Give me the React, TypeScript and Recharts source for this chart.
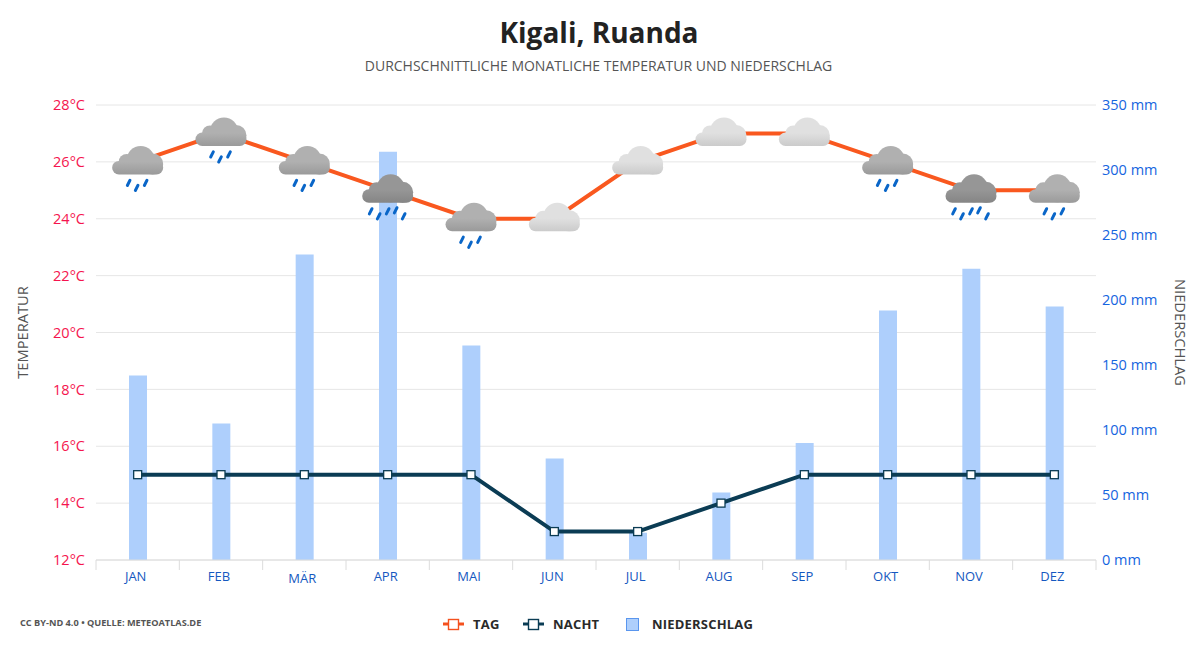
import { ComposedChart, Bar, Line, XAxis, YAxis, CartesianGrid, Legend } from 'recharts';

const months = ['JAN', 'FEB', 'MÄR', 'APR', 'MAI', 'JUN', 'JUL', 'AUG', 'SEP', 'OKT', 'NOV', 'DEZ'];
const tag = [26, 27, 26, 25, 24, 24, 26, 27, 27, 26, 25, 25];
const nacht = [15, 15, 15, 15, 15, 13, 13, 14, 15, 15, 15, 15];
const niederschlag = [142, 105, 235, 314, 165, 78, 21, 52, 90, 192, 224, 195];
// cloud colour class and rain drops per month
const weather = ['mid', 'mid', 'mid', 'dark', 'mid', 'light', 'light', 'light', 'light', 'mid', 'dark', 'mid'];
const drops = [3, 3, 3, 5, 3, 0, 0, 0, 0, 3, 5, 3];
const tempTicks = [12, 14, 16, 18, 20, 22, 24, 26, 28];
const rainTicks = [0, 50, 100, 150, 200, 250, 300, 350];

const data = months.map((m, i) => ({ name: m, tag: tag[i], nacht: nacht[i], rain: niederschlag[i] }));

const FONT = '"Open Sans", sans-serif';
const cloudColors: Record<string, [string, string]> = {
    light: ['#e0e0e0', '#cbcbcb'],
    mid: ['#b0b0b0', '#9a9a9a'],
    dark: ['#969696', '#858585'],
};
const drops3 = [[-9, 21], [-1, 26], [8, 21]];
const drops5 = [[-17, 21], [-9, 26], [0, 21], [8, 20], [16, 26]];

function WeatherDot(props: any) {
    const { cx, cy, index } = props;
    const kind = weather[index];
    const [top, bottom] = cloudColors[kind];
    const rain = drops[index] === 5 ? drops5 : drops[index] === 3 ? drops3 : [];
    const fill = `url(#cloud-${kind})`;
    return (
        <g transform={`translate(${cx},${cy})`}>
            <defs>
                <linearGradient id={`cloud-${kind}`} gradientUnits="userSpaceOnUse" x1="0" y1="-16" x2="0" y2="12.5">
                    <stop offset="0%" stopColor={top} />
                    <stop offset="55%" stopColor={top} />
                    <stop offset="100%" stopColor={bottom} />
                </linearGradient>
            </defs>
            <circle cx={3} cy={-2} r={14} fill={fill} />
            <circle cx={-11} cy={0} r={8} fill={fill} />
            <circle cx={15} cy={2} r={10.5} fill={fill} />
            <rect x={-25.5} y={-1} width={51} height={13.5} rx={6.7} fill={fill} />
            {rain.map(([dx, dy], k) => (
                <line key={k} x1={dx - 1.3} y1={dy + 2.6} x2={dx + 1.3} y2={dy - 2.6} stroke="#0a66c8" strokeWidth={3} strokeLinecap="round" />
            ))}
        </g>
    );
}

function SquareDot(props: any) {
    const { cx, cy } = props;
    return <rect x={cx - 4} y={cy - 4} width={8} height={8} fill="#fff" stroke="#0b3c54" strokeWidth={1.3} />;
}

function MonthTick(props: any) {
    const { x, y, payload } = props;
    const band = 1000 / 12;
    const left = x - band / 2;
    return (
        <g>
            <line x1={left} y1={y - 8} x2={left} y2={y + 2} stroke="#dcdcdc" />
            {payload.index === 11 && <line x1={left + band} y1={y - 8} x2={left + band} y2={y + 2} stroke="#dcdcdc" />}
            <text x={x - 2} y={payload.value === 'MÄR' ? y + 15 : y + 13} textAnchor="middle" fontFamily={FONT} fontSize={13} fill="#1558c0">
                {payload.value}
            </text>
        </g>
    );
}

function ChartLegend() {
    const label = { fontFamily: FONT, fontSize: 13, fontWeight: 700, letterSpacing: 0.2, fill: '#2a2a2a' };
    return (
        <svg width={340} height={24} style={{ display: 'block' }}>
            <line x1={3} y1={13} x2={24} y2={13} stroke="#f4511e" strokeWidth={3} />
            <rect x={8.5} y={8.5} width={10} height={10} fill="#fff" stroke="#f4511e" strokeWidth={1.4} />
            <text x={33} y={18} {...label}>TAG</text>
            <line x1={83} y1={13} x2={104} y2={13} stroke="#0b3c54" strokeWidth={3} />
            <rect x={88.5} y={8.5} width={10} height={10} fill="#fff" stroke="#0b3c54" strokeWidth={1.4} />
            <text x={113} y={18} {...label}>NACHT</text>
            <rect x={186.5} y={7.5} width={12} height={12} fill="#aecffc" stroke="#5a96ee" strokeWidth={1} />
            <text x={212} y={18} {...label}>NIEDERSCHLAG</text>
        </svg>
    );
}

export default function App() {
    return (
        <div style={{ position: 'absolute', left: 0, top: 0, width: 1200, height: 650, background: '#fff', fontFamily: FONT }}>
            <div style={{ position: 'absolute', left: 0, width: 1198, top: 13, textAlign: 'center', fontSize: 28, fontWeight: 700, color: '#222', lineHeight: '38px' }}>
                Kigali, Ruanda
            </div>
            <div style={{ position: 'absolute', left: 0, width: 1197, top: 56, textAlign: 'center', fontSize: 14, color: '#555', lineHeight: '20px' }}>
                DURCHSCHNITTLICHE MONATLICHE TEMPERATUR UND NIEDERSCHLAG
            </div>
            <div style={{ position: 'absolute', left: 20, top: 616, fontSize: 9.2, fontWeight: 700, color: '#555', lineHeight: '14px' }}>
                CC BY-ND 4.0 • QUELLE: METEOATLAS.DE
            </div>
            <ComposedChart width={1200} height={650} data={data} margin={{ top: 105, right: 0, bottom: 60, left: 0 }} style={{ position: 'absolute', left: 0, top: 0 }}>
                <CartesianGrid yAxisId="temp" horizontal vertical={false} stroke="#e6e6e6" syncWithTicks />
                <XAxis dataKey="name" height={30} axisLine={{ stroke: '#dcdcdc' }} tickLine={false} tick={<MonthTick />} interval={0} />
                <YAxis
                    yAxisId="temp"
                    width={96}
                    domain={[12, 28]}
                    ticks={tempTicks}
                    axisLine={false}
                    tickLine={false}
                    tickFormatter={(v: number) => `${v}°C`}
                    tick={{ fill: '#f5144e', fontSize: 14.5, fontFamily: FONT }}
                    tickMargin={5}
                    label={{ value: 'TEMPERATUR', angle: -90, position: 'insideLeft', offset: 23, fill: '#555', fontSize: 14.7, fontFamily: FONT, style: { textAnchor: 'middle' } }}
                />
                <YAxis
                    yAxisId="rain"
                    orientation="right"
                    width={104}
                    domain={[0, 350]}
                    ticks={rainTicks}
                    axisLine={false}
                    tickLine={false}
                    tickFormatter={(v: number) => `${v} mm`}
                    tick={{ fill: '#1565e0', fontSize: 14.5, fontFamily: FONT }}
                    tickMargin={0}
                    label={{ value: 'NIEDERSCHLAG', angle: 90, position: 'insideRight', offset: 20, fill: '#555', fontSize: 14.7, fontFamily: FONT, style: { textAnchor: 'middle' } }}
                />
                <Legend verticalAlign="middle" layout="horizontal" wrapperStyle={{ position: 'absolute', left: 440, top: 611, width: 340, height: 24 }} content={<ChartLegend />} />
                <Bar yAxisId="rain" dataKey="rain" name="NIEDERSCHLAG" barSize={18} fill="#aecffc" isAnimationActive={false} />
                <Line yAxisId="temp" dataKey="nacht" name="NACHT" stroke="#0b3c54" strokeWidth={4} dot={<SquareDot />} activeDot={false} isAnimationActive={false} />
                <Line yAxisId="temp" dataKey="tag" name="TAG" stroke="#f9581f" strokeWidth={4} dot={<WeatherDot />} activeDot={false} isAnimationActive={false} />
            </ComposedChart>
        </div>
    );
}
